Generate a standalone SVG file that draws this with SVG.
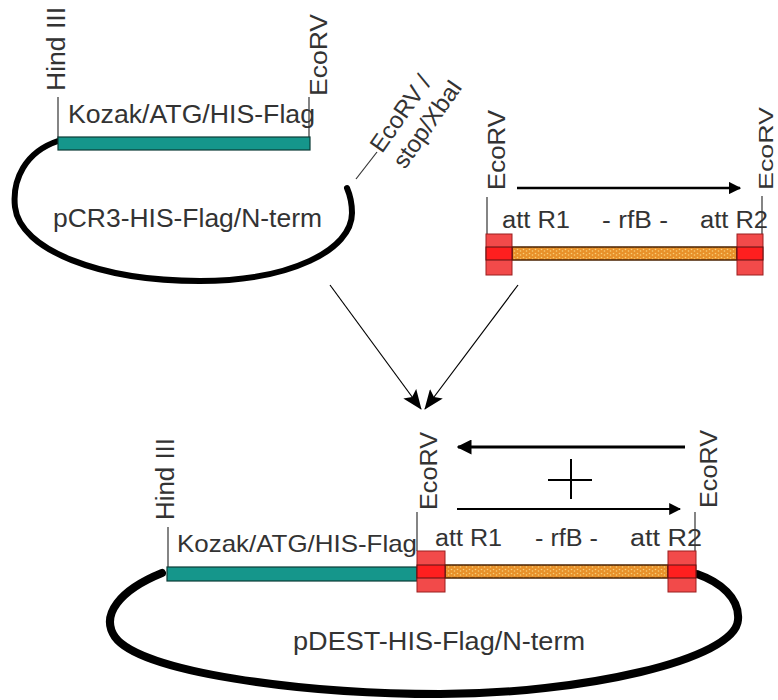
<svg xmlns="http://www.w3.org/2000/svg" width="778" height="700" viewBox="0 0 778 700">
<style>
text{font-family:"Liberation Sans",Arial,sans-serif;fill:#333}
.site{stroke:#333;stroke-width:1.2;fill:none}
.plasmid{fill:none;stroke:#000;stroke-linecap:round}
.teal{fill:#15968b;stroke:#0b3b36;stroke-width:1.2}
.orange{fill:url(#dots);stroke:#4a2200;stroke-width:1.5}
.red{fill:#f24a4a;stroke:#9a1f1f;stroke-width:1}
.redband{fill:#ff1f1f;stroke:#5a1010;stroke-width:1}
.arr{stroke:#000;fill:none}
</style>
<defs>
<pattern id="dots" width="6" height="4" patternUnits="userSpaceOnUse">
<rect width="6" height="4" fill="#e8912a"/>
<circle cx="1.5" cy="1.5" r="0.8" fill="#f8cf78"/>
<circle cx="4.5" cy="3" r="0.8" fill="#f8cf78"/>
</pattern>
<marker id="ah" viewBox="0 0 10 10" refX="9" refY="5" markerWidth="5" markerHeight="5" orient="auto" markerUnits="strokeWidth">
<path d="M0,0 L10,5 L0,10 z" fill="#000"/>
</marker>
<marker id="ah2" viewBox="0 0 10 10" refX="9" refY="5" markerWidth="6" markerHeight="6" orient="auto" markerUnits="strokeWidth">
<path d="M0,0 L10,5 L0,10 z" fill="#000"/>
</marker>
<marker id="big" viewBox="0 0 20 16" refX="19" refY="8" markerWidth="20" markerHeight="16" orient="auto" markerUnits="userSpaceOnUse">
<path d="M0,0 L20,8 L0,16 L4,8 z" fill="#000"/>
</marker>
</defs>

<g id="pCR3">
<path class="plasmid" stroke-width="6" d="M58,141 C25,152 12,180 15,207 C20,250 100,281 200,281 C290,281 352,250 352,213 C352,202 350,195 347,188"/>
<line class="site" x1="58" y1="97" x2="58" y2="138"/>
<line class="site" x1="309" y1="97" x2="309" y2="138"/>
<rect class="teal" x="58" y="137" width="252" height="13"/>
<text transform="translate(65,91) rotate(-90)" font-size="25" textLength="84" lengthAdjust="spacingAndGlyphs">Hind III</text>
<text transform="translate(327,96) rotate(-90)" font-size="24" textLength="82" lengthAdjust="spacingAndGlyphs">EcoRV</text>
<text x="68" y="123" font-size="25" textLength="247" lengthAdjust="spacingAndGlyphs">Kozak/ATG/HIS-Flag</text>
<text x="53" y="227" font-size="26" textLength="269" lengthAdjust="spacingAndGlyphs">pCR3-HIS-Flag/N-term</text>
<line x1="356" y1="179" x2="377" y2="152" stroke="#333" stroke-width="1.2"/>
<text transform="translate(382,154) rotate(-55)" font-size="24">EcoRV /</text>
<text transform="translate(405,170) rotate(-55)" font-size="24">stop/XbaI</text>
</g>

<g id="rfB-cassette">
<line class="site" x1="487" y1="197" x2="487" y2="234"/>
<line class="site" x1="762" y1="196" x2="762" y2="234"/>
<text transform="translate(505,190) rotate(-90)" font-size="24" textLength="80" lengthAdjust="spacingAndGlyphs">EcoRV</text>
<text transform="translate(773,190) rotate(-90)" font-size="20" textLength="83" lengthAdjust="spacingAndGlyphs">EcoRV</text>
<line class="arr" x1="517" y1="188" x2="740" y2="188" stroke-width="2.5" marker-end="url(#ah)"/>
<text x="502" y="228" font-size="23" textLength="68" lengthAdjust="spacingAndGlyphs">att R1</text>
<text x="602" y="228" font-size="23" textLength="66" lengthAdjust="spacingAndGlyphs">- rfB -</text>
<text x="700" y="228" font-size="23" textLength="68" lengthAdjust="spacingAndGlyphs">att R2</text>
<rect class="orange" x="512" y="247" width="225" height="13"/>
<rect class="red" x="486" y="234" width="26" height="41"/>
<rect class="redband" x="486" y="247" width="26" height="13"/>
<rect class="red" x="737" y="234" width="26" height="41"/>
<rect class="redband" x="737" y="247" width="26" height="13"/>
</g>

<g id="connectors">
<line x1="330" y1="285" x2="421" y2="409" stroke="#000" stroke-width="1.2" marker-end="url(#big)"/>
<line x1="518" y1="285" x2="425" y2="409" stroke="#000" stroke-width="1.2" marker-end="url(#big)"/>
</g>

<g id="pDEST">
<path class="plasmid" stroke-width="8" d="M162,573 C120,590 100,615 115,637 C140,672 300,694 440,694 C580,694 735,660 738,620 C740,598 720,582 697,574"/>
<line class="site" x1="168" y1="527" x2="168" y2="567"/>
<line class="site" x1="417" y1="512" x2="417" y2="551"/>
<line class="site" x1="695" y1="512" x2="695" y2="551"/>
<text transform="translate(174,520) rotate(-90)" font-size="25" textLength="82" lengthAdjust="spacingAndGlyphs">Hind III</text>
<text transform="translate(437,510) rotate(-90)" font-size="24" textLength="78" lengthAdjust="spacingAndGlyphs">EcoRV</text>
<text transform="translate(717,508) rotate(-90)" font-size="24" textLength="78" lengthAdjust="spacingAndGlyphs">EcoRV</text>
<line class="arr" x1="685" y1="447" x2="458" y2="447" stroke-width="3" marker-end="url(#ah)"/>
<line x1="548" y1="480" x2="592" y2="480" stroke="#000" stroke-width="2"/>
<line x1="571" y1="459" x2="571" y2="499" stroke="#000" stroke-width="2"/>
<line class="arr" x1="457" y1="509" x2="680" y2="509" stroke-width="2" marker-end="url(#ah2)"/>
<text x="177" y="552" font-size="24" textLength="240" lengthAdjust="spacingAndGlyphs">Kozak/ATG/HIS-Flag</text>
<text x="435" y="546" font-size="23" textLength="67" lengthAdjust="spacingAndGlyphs">att R1</text>
<text x="535" y="546" font-size="23" textLength="63" lengthAdjust="spacingAndGlyphs">- rfB -</text>
<text x="630" y="546" font-size="23" textLength="72" lengthAdjust="spacingAndGlyphs">att R2</text>
<rect class="teal" x="167" y="567" width="250" height="14"/>
<rect class="orange" x="445" y="565" width="223" height="13"/>
<rect class="red" x="417" y="551" width="28" height="41"/>
<rect class="redband" x="417" y="565" width="28" height="13"/>
<rect class="red" x="668" y="551" width="28" height="41"/>
<rect class="redband" x="668" y="565" width="28" height="13"/>
<text x="293" y="650" font-size="26" textLength="292" lengthAdjust="spacingAndGlyphs">pDEST-HIS-Flag/N-term</text>
</g>
</svg>
